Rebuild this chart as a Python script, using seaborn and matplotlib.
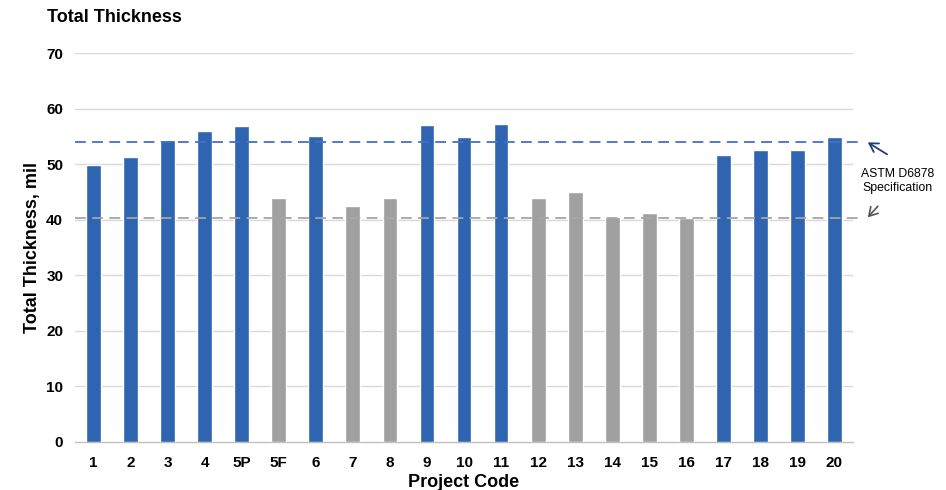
import numpy as np
import pandas as pd
import matplotlib
matplotlib.use("Agg")
import matplotlib.pyplot as plt
import seaborn as sns

codes = ["1", "2", "3", "4", "5P", "5F", "6", "7", "8", "9", "10",
         "11", "12", "13", "14", "15", "16", "17", "18", "19", "20"]
thickness = [49.8, 51.2, 54.3, 55.9, 56.9, 43.9, 55.0, 42.5, 43.9, 57.0, 54.9,
             57.2, 43.9, 45.0, 40.5, 41.2, 40.2, 51.7, 52.6, 52.6, 54.9]
group = ["A", "A", "A", "A", "A", "B", "A", "B", "B", "A", "A",
         "A", "B", "B", "B", "B", "B", "A", "A", "A", "A"]
spec_upper = 54.0
spec_lower = 40.3
yticks = [0, 10, 20, 30, 40, 50, 60, 70]

blue = "#2E64B0"
gray = "#A0A0A0"

sns.set_theme(style="white")
plt.rcParams["font.family"] = ["Liberation Sans", "DejaVu Sans"]
plt.rcParams["text.color"] = "black"
plt.rcParams["axes.labelcolor"] = "black"
plt.rcParams["xtick.labelcolor"] = "black"
plt.rcParams["ytick.labelcolor"] = "black"

df = pd.DataFrame({"code": codes, "val": thickness, "grp": group})

fig = plt.figure(figsize=(9.46, 4.90), dpi=100)
ax = fig.add_axes([0.0793, 0.0986, 0.8224, 0.7932])

sns.barplot(data=df, x="code", y="val", hue="grp", order=codes,
            palette={"A": blue, "B": gray}, dodge=False, width=0.4,
            legend=False, ax=ax, saturation=1, zorder=3)

ax.set_xlim(-0.5, len(codes) - 0.5)
ax.set_ylim(0, 70)
ax.set_yticks(yticks)
ax.set_yticklabels([str(t) for t in yticks], fontsize=11, fontweight="bold")
ax.set_xticks(range(len(codes)))
ax.set_xticklabels(codes, fontsize=11, fontweight="bold")
ax.set_xticks(np.arange(-0.5, len(codes), 1), minor=True)
ax.tick_params(axis="x", which="major", length=0, pad=10)
ax.tick_params(axis="x", which="minor", direction="inout", length=7,
               color="#BFBFBF", width=1)
ax.tick_params(axis="y", length=0, pad=8.5)

for y in yticks[1:]:
    ax.axhline(y, color="#D9D9D9", lw=1, zorder=1)

for s in ["left", "right", "top"]:
    ax.spines[s].set_visible(False)
ax.spines["bottom"].set_color("#BFBFBF")
ax.spines["bottom"].set_linewidth(1)

ax.hlines(spec_upper, -0.5, 20.72, colors="#4472C4", linestyles=(0, (6, 3.5)),
          lw=1.3, zorder=4, clip_on=False)
ax.hlines(spec_lower, -0.5, 20.72, colors="#A6A6A6", linestyles=(0, (6, 3.5)),
          lw=1.3, zorder=4, clip_on=False)

ax.set_xlabel("Project Code", fontsize=13, fontweight="bold", labelpad=3)
ax.set_ylabel("Total Thickness, mil", fontsize=13, fontweight="bold", labelpad=4)

ax.text(21.71, 46.9, "ASTM D6878\nSpecification", ha="center", va="center",
        fontsize=8.8, linespacing=1.25, clip_on=False)
ax.annotate("", xy=(20.9, 53.9), xytext=(21.42, 51.75),
            arrowprops=dict(arrowstyle="->,head_length=0.5,head_width=0.3",
                            color="#1F3F7A", lw=1.3,
                            shrinkA=0, shrinkB=0),
            annotation_clip=False)
ax.annotate("", xy=(20.9, 40.4), xytext=(21.17, 42.4),
            arrowprops=dict(arrowstyle="->,head_length=0.5,head_width=0.3",
                            color="#555555", lw=1.2,
                            shrinkA=0, shrinkB=0),
            annotation_clip=False)

fig.text(0.0497, 0.965, "Total Thickness", fontsize=13, fontweight="bold",
         ha="left", va="center")

fig.savefig("out.png", dpi=100, facecolor="white")
